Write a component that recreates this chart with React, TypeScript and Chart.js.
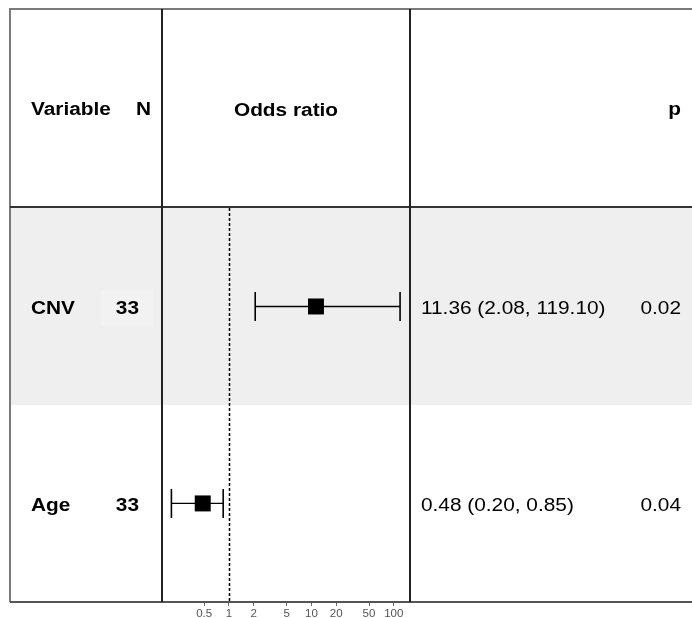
import React, { useEffect, useRef } from "react";
import { Chart, registerables } from "chart.js";

Chart.register(...registerables);

const variables = ["CNV", "Age"];
const nValues = [33, 33];
const oddsRatios = [11.36, 0.48];
const ciLower = [2.08, 0.2];
const ciUpper = [119.1, 0.85];
const pValues = ["0.02", "0.04"];
const tickValues = [0.5, 1, 2, 5, 10, 20, 50, 100];
const headerLabels = ["Variable", "N", "Odds ratio", "p"];

const W = 692;
const H = 618;
const SX = 1.19;
const FONT = "'Liberation Sans', Arial, sans-serif";

function drawText(
  ctx: CanvasRenderingContext2D,
  text: string,
  x: number,
  y: number,
  align: CanvasTextAlign,
  bold: boolean,
  size = 17.5
) {
  ctx.save();
  ctx.font = `${bold ? "bold " : ""}${size}px ${FONT}`;
  ctx.fillStyle = "#000";
  ctx.textAlign = align;
  ctx.textBaseline = "alphabetic";
  ctx.translate(x, y);
  ctx.scale(SX, 1);
  ctx.fillText(text, 0, 0);
  ctx.restore();
}

const tablePlugin = {
  id: "tablePlugin",
  beforeDraw(chart: any) {
    const { ctx, scales } = chart;
    const y = scales.y;
    ctx.save();
    ctx.fillStyle = "#fff";
    ctx.fillRect(0, 0, W, H);
    const r0 = y.getPixelForValue(0);
    const r1 = y.getPixelForValue(1);
    ctx.fillStyle = "#efefef";
    ctx.fillRect(10, r0, W - 10, r1 - r0);
    ctx.fillStyle = "#f2f2f2";
    ctx.fillRect(101, r0 + 82, 52, 36);
    ctx.restore();
  },
  beforeDatasetsDraw(chart: any) {
    const { ctx, chartArea, scales } = chart;
    const x1 = Math.round(scales.x.getPixelForValue(1)) + 0.5;
    ctx.save();
    ctx.strokeStyle = "#000";
    ctx.lineWidth = 1.5;
    ctx.setLineDash([3, 2]);
    ctx.beginPath();
    ctx.moveTo(x1, chartArea.top);
    ctx.lineTo(x1, chartArea.bottom);
    ctx.stroke();
    ctx.restore();
  },
  afterDraw(chart: any) {
    const { ctx, chartArea, scales } = chart;
    const y = scales.y;
    const top = 9;
    const bottom = chartArea.bottom;
    const hdr = chartArea.top - 1;
    ctx.save();
    ctx.strokeStyle = "#7a7a7a";
    ctx.lineWidth = 2;
    ctx.beginPath();
    ctx.moveTo(W, top);
    ctx.lineTo(10, top);
    ctx.lineTo(10, bottom);
    ctx.stroke();
    ctx.strokeStyle = "#333";
    ctx.beginPath();
    ctx.moveTo(10, hdr);
    ctx.lineTo(W, hdr);
    ctx.stroke();
    ctx.strokeStyle = "#555";
    ctx.beginPath();
    ctx.moveTo(10, bottom);
    ctx.lineTo(W, bottom);
    ctx.stroke();
    ctx.strokeStyle = "#222";
    ctx.beginPath();
    ctx.moveTo(chartArea.left, top);
    ctx.lineTo(chartArea.left, bottom);
    ctx.moveTo(chartArea.right, top);
    ctx.lineTo(chartArea.right, bottom);
    ctx.stroke();
    ctx.restore();

    const hy = 115;
    drawText(ctx, headerLabels[0], 31, hy, "left", true);
    drawText(ctx, headerLabels[1], 151, hy, "right", true);
    drawText(ctx, headerLabels[2], (chartArea.left + chartArea.right) / 2, hy + 1, "center", true);
    drawText(ctx, headerLabels[3], 681, hy, "right", true);

    variables.forEach((v, i) => {
      const cy = y.getPixelForValue(i + 0.5) + 7.5;
      drawText(ctx, v, 31, cy, "left", true);
      drawText(ctx, String(nValues[i]), 139, cy, "right", true);
      const ci = `${oddsRatios[i].toFixed(2)} (${ciLower[i].toFixed(2)}, ${ciUpper[i].toFixed(2)})`;
      drawText(ctx, ci, 421, cy, "left", false);
      drawText(ctx, pValues[i], 681, cy, "right", false);
    });
  },
};

export default function App() {
  const ref = useRef<HTMLCanvasElement>(null);
  useEffect(() => {
    if (!ref.current) return;
    const whiskers = variables.map((v, i) => ({
      type: "line" as const,
      label: v + " CI",
      data: [
        { x: ciLower[i], y: i + 0.5 },
        { x: ciUpper[i], y: i + 0.5 },
      ],
      borderColor: "#000",
      borderWidth: 1.3,
      showLine: true,
      pointStyle: "line" as const,
      rotation: 90,
      pointRadius: 14.5,
      pointBorderWidth: 1.6,
      pointBorderColor: "#000",
      pointBackgroundColor: "#000",
      order: 2,
    }));
    const boxes = {
      type: "scatter" as const,
      label: "Odds ratio",
      data: oddsRatios.map((o, i) => ({ x: o, y: i + 0.5 })),
      pointStyle: "rect" as const,
      pointRadius: 11.3,
      backgroundColor: "#000",
      borderColor: "#000",
      borderWidth: 0,
      order: 1,
    };
    const chart = new Chart(ref.current, {
      type: "scatter",
      data: { datasets: [...whiskers, boxes] as any },
      options: {
        animation: false,
        responsive: false,
        devicePixelRatio: 1,
        layout: { padding: { left: 162, right: 282, top: 208, bottom: 0 } },
        plugins: { legend: { display: false }, tooltip: { enabled: false } },
        scales: {
          x: {
            type: "logarithmic",
            position: "bottom",
            min: 0.1538,
            max: 157.2,
            grid: {
              display: true,
              drawOnChartArea: false,
              drawTicks: true,
              tickLength: 4,
              color: "#666",
              lineWidth: 1,
            },
            border: { display: false },
            ticks: {
              autoSkip: false,
              maxRotation: 0,
              padding: 1,
              color: "#555",
              font: { size: 11.5, family: FONT },
              callback: (v: any) => String(v),
            },
            afterBuildTicks: (s: any) => {
              s.ticks = tickValues.map((v) => ({ value: v }));
            },
            afterFit: (s: any) => {
              s.height = 15;
            },
          },
          y: {
            type: "linear",
            min: 0,
            max: 2,
            reverse: true,
            display: false,
          },
        },
      },
      plugins: [tablePlugin],
    });
    return () => chart.destroy();
  }, []);
  return (
    <div style={{ position: "fixed", left: 0, top: 0, width: W, height: H, background: "#fff" }}>
      <canvas ref={ref} width={W} height={H} style={{ display: "block" }} />
    </div>
  );
}
